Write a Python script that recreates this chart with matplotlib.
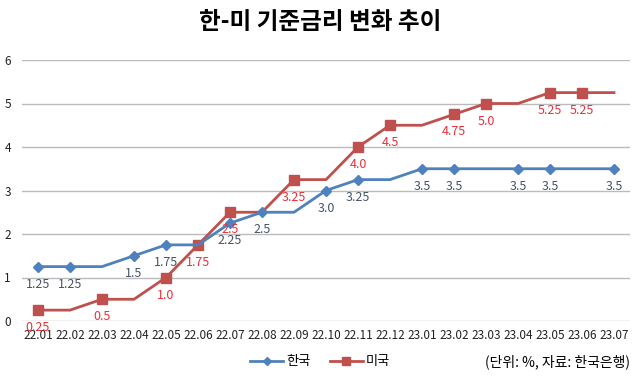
import matplotlib.pyplot as plt

plt.rcParams['font.family'] = ['Noto Sans CJK KR', 'DejaVu Sans']

months = ['22.01', '22.02', '22.03', '22.04', '22.05', '22.06', '22.07', '22.08', '22.09', '22.10',
          '22.11', '22.12', '23.01', '23.02', '23.03', '23.04', '23.05', '23.06', '23.07']
korea = [1.25, 1.25, 1.25, 1.5, 1.75, 1.75, 2.25, 2.5, 2.5, 3.0,
         3.25, 3.25, 3.5, 3.5, 3.5, 3.5, 3.5, 3.5, 3.5]
usa = [0.25, 0.25, 0.5, 0.5, 1.0, 1.75, 2.5, 2.5, 3.25, 3.25,
       4.0, 4.5, 4.5, 4.75, 5.0, 5.0, 5.25, 5.25, 5.25]
# 마커/라벨이 찍힌 지점
korea_marks = [0, 1, 3, 4, 6, 7, 9, 10, 12, 13, 15, 16, 18]
usa_marks = [0, 2, 4, 5, 6, 8, 10, 11, 13, 14, 16, 17]
korea_labels = ['1.25', '1.25', '1.5', '1.75', '2.25', '2.5', '3.0', '3.25', '3.5', '3.5', '3.5', '3.5', '3.5']
usa_labels = ['0.25', '0.5', '1.0', '1.75', '2.5', '3.25', '4.0', '4.5', '4.75', '5.0', '5.25', '5.25']

blue = '#4F81BD'
red = '#C0504D'

fig = plt.figure(figsize=(6.4, 3.82), dpi=100)
ax = fig.add_axes([22 / 640, 1 - 321 / 382, 608 / 640, 261 / 382])

x = list(range(len(months)))
ax.plot(x, usa, color=red, lw=2, marker='s', ms=7, markevery=usa_marks, label='미국', zorder=2)
ax.plot(x, korea, color=blue, lw=2, marker='D', ms=5.5, markevery=korea_marks, label='한국', zorder=3)

for i, t in zip(korea_marks, korea_labels):
    ax.annotate(t, (i, korea[i]), xytext=(0, -8), textcoords='offset points',
                ha='center', va='top', fontsize=9, color='#44546A')
for i, t in zip(usa_marks, usa_labels):
    ax.annotate(t, (i, usa[i]), xytext=(0, -8), textcoords='offset points',
                ha='center', va='top', fontsize=9, color='#E8303A')

ax.set_xlim(-0.5, len(months) - 0.5)
ax.set_ylim(0, 6)
ax.set_xticks(x)
ax.set_xticklabels(months, fontsize=8.5, color='#222222')
ax.set_yticks(range(7))
ax.tick_params(axis='y', labelsize=8.5, length=0, pad=8, colors='#222222')
ax.tick_params(axis='x', length=0, pad=6)
ax.grid(axis='y', color='#BBBBBB', lw=1)
for s in ax.spines.values():
    s.set_visible(False)

fig.text(0.5, 1 - 22 / 382, '한-미 기준금리 변화 추이', ha='center', va='center',
         fontsize=17, fontweight='bold')
h, l = ax.get_legend_handles_labels()
fig.legend(h[::-1], l[::-1], loc='center', bbox_to_anchor=(0.5, 1 - 362 / 382), ncol=2, frameon=False,
           fontsize=9.5, handlelength=2.5, columnspacing=1.5, handletextpad=0.2, markerscale=0.8)
fig.text(630 / 640, 1 - 362 / 382, '(단위: %, 자료: 한국은행)', ha='right', va='center', fontsize=10)

fig.savefig('out.png', dpi=100)
